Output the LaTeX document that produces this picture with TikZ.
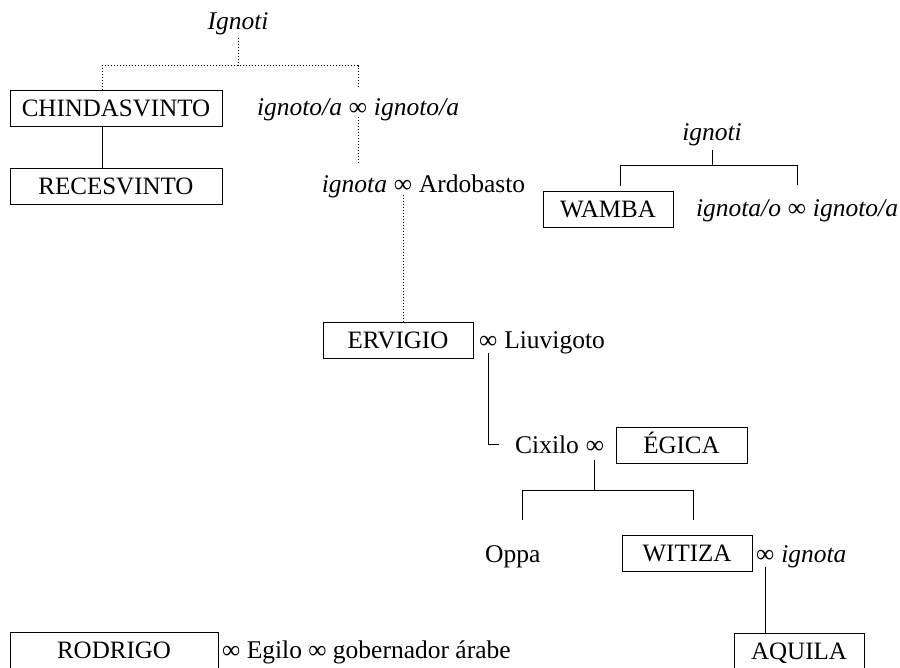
\documentclass[tikz,border=0pt]{standalone}
\usepackage{fontspec}
\setmainfont{Liberation Serif}
\usetikzlibrary{positioning,calc}

\tikzset{
  rey/.style={draw, line width=1pt, minimum height=36pt, inner sep=0pt,
    text height=16.5pt, text depth=0pt, font=\fontsize{25}{29}\selectfont},
  nombre/.style={inner sep=0pt, anchor=base, font=\fontsize{25.5}{29}\selectfont},
  linaje/.style={line width=1pt},
  dudoso/.style={line width=1pt, dotted},
}

\begin{document}
\begin{tikzpicture}[x=1pt, y=-1pt]
        \useasboundingbox (0,0) rectangle (900,667);
        \clip (0,0) rectangle (900,667);

        % Ignoti and their children
        \node[nombre] (ignoti) at (238,29) {\textit{Ignoti}};
        \node[rey, minimum width=212pt] (chindasvinto) at (116,108) {CHINDASVINTO};
        \node[rey, minimum width=212pt] (recesvinto) at (116,186.5) {RECESVINTO};
        \node[nombre] (infA) at (358,115) {∞};
        \node[nombre, anchor=base east] (ignotoA) at ([xshift=-6.5pt]infA.base west) {\textit{ignoto/a}};
        \node[nombre, anchor=base west] (ignotaA) at ([xshift=6.5pt]infA.base east) {\textit{ignoto/a}};

        \draw[dudoso] ([yshift=-3pt]ignoti.south) -- ++(0,28) coordinate (nudoA);
        \draw[dudoso] ([xshift=-14pt]chindasvinto.north) |- (nudoA) -| ([yshift=14pt]infA.north);
        \draw[linaje] ([xshift=-14pt]chindasvinto.south) -- ([xshift=-14pt]recesvinto.north);

        % Ardobasto line
        \node[nombre] (infB) at (403,192) {∞};
        \node[nombre, anchor=base east] (ignotaB) at ([xshift=-6.5pt]infB.base west) {\textit{ignota}};
        \node[nombre, anchor=base west] (ardobasto) at ([xshift=6.5pt]infB.base east) {Ardobasto};
        \draw[dudoso] ([yshift=-2pt]infA.south) -- ([yshift=10pt]infA.south |- ignotaB.north);

        % Wamba
        \node[nombre] (ignotiB) at (712,140) {\textit{ignoti}};
        \node[rey, minimum width=130pt] (wamba) at (608,209) {WAMBA};
        \node[nombre] (infG) at (797,216) {∞};
        \node[nombre, anchor=base east] (ignotaG) at ([xshift=-6.5pt]infG.base west) {\textit{ignota/o}};
        \node[nombre, anchor=base west] (ignotoG) at ([xshift=6.5pt]infG.base east) {\textit{ignoto/a}};
        \draw[linaje] ([yshift=-4pt]ignotiB.south) -- ++(0,16) coordinate (nudoB);
        \draw[linaje] ([xshift=12pt,yshift=5pt]wamba.north) |- (nudoB) -| ([yshift=19pt]infG.north);

        % Ervigio and Egica
        \node[rey, minimum width=150pt] (ervigio) at (398,340) {ERVIGIO};
        \node[nombre, anchor=base west] (infC) at (479,348) {∞};
        \node[nombre, anchor=base west] (liuvigoto) at ([xshift=6.5pt]infC.base east) {Liuvigoto};
        \draw[dudoso] ([yshift=-3pt]infB.south) -- (infB |- ervigio.north);

        \node[nombre, anchor=base west] (cixilo) at (515,453) {Cixilo};
        \node[nombre, anchor=base west] (infD) at ([xshift=6.5pt]cixilo.base east) {∞};
        \node[rey, minimum width=131pt] (egica) at (681.5,445) {ÉGICA};
        \draw[linaje] ([yshift=-5pt]infC.south) |- ([xshift=-16pt]cixilo.west);

        % Children of Egica
        \node[nombre, anchor=base west] (oppa) at (485,562) {Oppa};
        \node[rey, minimum width=130pt] (witiza) at (687,553.5) {WITIZA};
        \node[nombre, anchor=base west] (infF) at (756,562) {∞};
        \node[nombre, anchor=base west] (ignotaF) at ([xshift=6.5pt]infF.base east) {\textit{ignota}};
        \draw[linaje] ([yshift=-7pt]infD.south) -- ++(0,30) coordinate (nudoE);
        \draw[linaje] ([xshift=10pt,yshift=25pt]oppa.north) |- (nudoE) -| ([xshift=6pt,yshift=15pt]witiza.north);

        % Aquila and Rodrigo
        \node[rey, minimum width=130pt] (aquila) at (799,651) {AQUILA};
        \draw[linaje] ([yshift=-5pt]infF.south) -- (infF.south |- aquila.north);
        \node[rey, minimum width=208pt] (rodrigo) at (114,650) {RODRIGO};
        \node[nombre, anchor=base west] (egilo) at (222,658) {∞ Egilo ∞ gobernador árabe};
    \end{tikzpicture}
\end{document}
